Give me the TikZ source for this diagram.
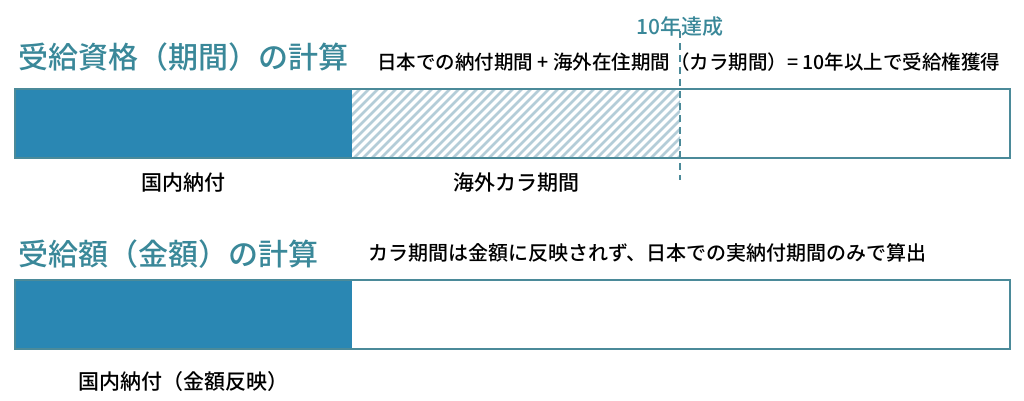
\documentclass[tikz,border=0pt]{standalone}
\usepackage{fontspec}
\setmainfont{Noto Sans CJK JP}
\newfontfamily\jpmed{Noto Sans CJK JP Medium}
\usetikzlibrary{positioning}
\definecolor{barblue}{HTML}{2A87B3}
\definecolor{tealtxt}{HTML}{3A8899}
\definecolor{edgeteal}{HTML}{4B8A99}
\definecolor{hatchblue}{HTML}{B4CDD8}
\begin{document}
\begin{tikzpicture}[
  x=1pt, y=-1pt,
  title/.style={font=\fontsize{30}{34}\selectfont\jpmed, text=tealtxt, anchor=west, inner sep=0pt},
  note/.style={font=\fontsize{19.5}{22}\selectfont\jpmed, anchor=west, inner sep=0pt},
  lbl/.style={font=\fontsize{21}{24}\selectfont\jpmed, inner sep=0pt},
  seg/.style={rectangle, minimum height=69pt, inner sep=0pt, outer sep=0pt, anchor=north west},
  frame/.style={draw=edgeteal, line width=2.5pt},
  goalline/.style={draw=edgeteal, line width=2pt, dash pattern=on 7pt off 5pt}
]
\useasboundingbox (0,0) rectangle (1024,401);

% period calculation
\node[title] (title1) at (18,57) {受給資格（期間）の計算};
\node[note] (note1) at (377,62) {日本での納付期間\ +\ 海外在住期間（カラ期間）=\ 10年以上で受給権獲得};

\node[seg, fill=barblue, minimum width=337pt] (dom) at (15,89) {};
\node[seg, minimum width=328pt, right=0pt of dom] (kara) {};
\node[seg, minimum width=330pt, right=0pt of kara] (rest) {};
\begin{scope}
  \clip (kara.north west) rectangle (kara.south east);
  \foreach \x in {280,289,...,690}
    \draw[hatchblue, line width=2.5pt] (\x,160) -- ++(75,-75);
\end{scope}
\draw[frame] (dom.north west) rectangle (rest.south east);

\node[lbl] (domlbl) [below=15pt of dom] {国内納付};
\node[lbl] (karalbl) [below=15pt of kara] {海外カラ期間};

\node[font=\fontsize{21}{24}\selectfont\jpmed, text=tealtxt, inner sep=0pt] (goal) at (680,27) {10年達成};
\coordinate (goalend) at (680,180);
\draw[goalline] ([yshift=6pt]goal.south) -- (goalend);

% amount calculation
\node[title] (title2) at (18,254) {受給額（金額）の計算};
\node[note, font=\fontsize{20}{22}\selectfont\jpmed] (note2) at (368,253) {カラ期間は金額に反映されず、日本での実納付期間のみで算出};

\node[seg, fill=barblue, minimum width=337pt] (dom2) at (15,280) {};
\node[seg, minimum width=658pt, right=0pt of dom2] (rest2) {};
\draw[frame] (dom2.north west) rectangle (rest2.south east);

\node[lbl] (dom2lbl) [below=22pt of dom2] {国内納付（金額反映）};
\end{tikzpicture}
\end{document}
